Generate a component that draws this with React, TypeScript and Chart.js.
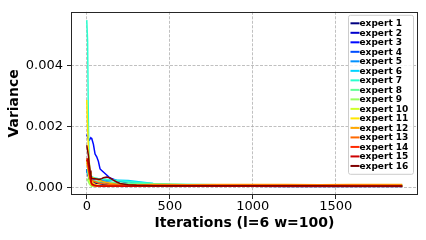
import React, { useEffect, useRef } from "react";
import { Chart, registerables } from "chart.js";

Chart.register(...registerables);

const iterations = [0, 5, 10, 15, 20, 25, 30, 40, 50, 60, 70, 80, 90, 100, 120, 140, 160, 180, 200, 250, 300, 400, 500, 600, 800, 1000, 1200, 1400, 1600, 1800, 1900];

const expert1 = [6.0e-4, 5.0e-4, 3.5e-4, 2.5e-4, 2.0e-4, 1.8e-4, 1.6e-4, 1.5e-4, 1.4e-4, 1.3e-4, 1.2e-4, 1.1e-4, 1.0e-4, 0.9e-4, 0.8e-4, 0.7e-4, 0.6e-4, 0.55e-4, 0.5e-4, 0.4e-4, 0.35e-4, 0.3e-4, 0.3e-4, 0.28e-4, 0.27e-4, 0.26e-4, 0.25e-4, 0.25e-4, 0.24e-4, 0.24e-4, 0.24e-4];
const expert2 = [5.0e-4, 4.5e-4, 3.8e-4, 3.2e-4, 2.8e-4, 2.5e-4, 2.3e-4, 2.0e-4, 1.9e-4, 1.8e-4, 1.8e-4, 1.7e-4, 1.6e-4, 1.5e-4, 1.4e-4, 1.3e-4, 1.1e-4, 1.0e-4, 0.9e-4, 0.7e-4, 0.55e-4, 0.45e-4, 0.4e-4, 0.38e-4, 0.35e-4, 0.34e-4, 0.33e-4, 0.32e-4, 0.32e-4, 0.31e-4, 0.31e-4];
const expert3 = [17.3e-4, 16.5e-4, 15.7e-4, 15.5e-4, 16.0e-4, 16.2e-4, 16.0e-4, 14.1e-4, 10.9e-4, 10.0e-4, 8.5e-4, 6.0e-4, 5.5e-4, 5.0e-4, 4.0e-4, 3.0e-4, 2.6e-4, 2.2e-4, 2.0e-4, 1.2e-4, 0.7e-4, 0.5e-4, 0.45e-4, 0.42e-4, 0.4e-4, 0.4e-4, 0.38e-4, 0.38e-4, 0.37e-4, 0.37e-4, 0.37e-4];
const expert4 = [5.5e-4, 4.8e-4, 4.0e-4, 3.5e-4, 3.2e-4, 3.0e-4, 2.9e-4, 2.7e-4, 2.6e-4, 2.5e-4, 2.4e-4, 2.3e-4, 2.2e-4, 2.0e-4, 1.8e-4, 1.6e-4, 1.4e-4, 1.2e-4, 1.0e-4, 0.8e-4, 0.6e-4, 0.5e-4, 0.45e-4, 0.42e-4, 0.4e-4, 0.4e-4, 0.38e-4, 0.37e-4, 0.37e-4, 0.36e-4, 0.36e-4];
const expert5 = [6.0e-4, 5.0e-4, 4.0e-4, 3.6e-4, 3.3e-4, 3.1e-4, 3.0e-4, 2.9e-4, 2.8e-4, 2.7e-4, 2.6e-4, 2.5e-4, 2.4e-4, 2.4e-4, 2.3e-4, 2.2e-4, 2.2e-4, 2.1e-4, 2.0e-4, 1.8e-4, 1.4e-4, 0.9e-4, 0.7e-4, 0.6e-4, 0.55e-4, 0.5e-4, 0.5e-4, 0.48e-4, 0.47e-4, 0.46e-4, 0.46e-4];
const expert6 = [5.0e-4, 4.6e-4, 4.2e-4, 4.0e-4, 3.8e-4, 3.5e-4, 3.3e-4, 3.0e-4, 2.9e-4, 2.8e-4, 2.7e-4, 2.6e-4, 2.6e-4, 2.5e-4, 2.5e-4, 2.4e-4, 2.4e-4, 2.3e-4, 2.3e-4, 2.2e-4, 1.9e-4, 1.2e-4, 0.9e-4, 0.8e-4, 0.7e-4, 0.65e-4, 0.6e-4, 0.6e-4, 0.58e-4, 0.57e-4, 0.57e-4];
const expert7 = [55.0e-4, 48.0e-4, 20.0e-4, 8.0e-4, 4.5e-4, 3.8e-4, 3.5e-4, 3.2e-4, 3.0e-4, 2.9e-4, 2.8e-4, 2.7e-4, 2.6e-4, 2.6e-4, 2.5e-4, 2.4e-4, 2.3e-4, 2.2e-4, 2.1e-4, 1.9e-4, 1.6e-4, 1.2e-4, 1.0e-4, 0.9e-4, 0.8e-4, 0.75e-4, 0.7e-4, 0.7e-4, 0.68e-4, 0.67e-4, 0.66e-4];
const expert8 = [9.5e-4, 8.0e-4, 5.0e-4, 3.5e-4, 2.8e-4, 2.5e-4, 2.3e-4, 2.1e-4, 2.0e-4, 1.9e-4, 1.8e-4, 1.8e-4, 1.7e-4, 1.7e-4, 1.6e-4, 1.5e-4, 1.5e-4, 1.4e-4, 1.4e-4, 1.3e-4, 1.2e-4, 1.1e-4, 1.0e-4, 0.9e-4, 0.8e-4, 0.75e-4, 0.7e-4, 0.68e-4, 0.66e-4, 0.65e-4, 0.65e-4];
const expert9 = [2.8e-4, 2.4e-4, 1.8e-4, 1.2e-4, 0.8e-4, 0.5e-4, 0.35e-4, 0.32e-4, 0.3e-4, 0.31e-4, 0.3e-4, 0.29e-4, 0.3e-4, 0.31e-4, 0.3e-4, 0.3e-4, 0.29e-4, 0.3e-4, 0.3e-4, 0.29e-4, 0.3e-4, 0.3e-4, 0.29e-4, 0.29e-4, 0.28e-4, 0.28e-4, 0.28e-4, 0.28e-4, 0.28e-4, 0.27e-4, 0.27e-4];
const expert10 = [9.0e-4, 7.0e-4, 4.0e-4, 2.5e-4, 1.5e-4, 1.0e-4, 0.8e-4, 0.6e-4, 0.5e-4, 0.45e-4, 0.42e-4, 0.4e-4, 0.4e-4, 0.38e-4, 0.37e-4, 0.36e-4, 0.35e-4, 0.35e-4, 0.34e-4, 0.34e-4, 0.33e-4, 0.33e-4, 0.32e-4, 0.32e-4, 0.32e-4, 0.31e-4, 0.31e-4, 0.31e-4, 0.3e-4, 0.3e-4, 0.3e-4];
const expert11 = [28.7e-4, 20.0e-4, 12.0e-4, 8.0e-4, 5.0e-4, 3.0e-4, 2.0e-4, 1.2e-4, 0.9e-4, 0.7e-4, 0.6e-4, 0.5e-4, 0.48e-4, 0.46e-4, 0.45e-4, 0.44e-4, 0.43e-4, 0.42e-4, 0.41e-4, 0.4e-4, 0.4e-4, 0.39e-4, 0.38e-4, 0.38e-4, 0.37e-4, 0.37e-4, 0.36e-4, 0.36e-4, 0.36e-4, 0.35e-4, 0.35e-4];
const expert12 = [8.0e-4, 7.0e-4, 5.5e-4, 4.5e-4, 3.8e-4, 3.4e-4, 3.2e-4, 3.0e-4, 2.8e-4, 2.6e-4, 2.4e-4, 2.2e-4, 2.0e-4, 1.8e-4, 1.5e-4, 1.3e-4, 1.1e-4, 1.0e-4, 0.9e-4, 0.8e-4, 0.75e-4, 0.85e-4, 0.9e-4, 0.8e-4, 0.9e-4, 0.85e-4, 0.9e-4, 0.8e-4, 0.9e-4, 0.85e-4, 0.85e-4];
const expert13 = [9.0e-4, 8.0e-4, 6.0e-4, 4.0e-4, 3.0e-4, 2.5e-4, 2.2e-4, 2.0e-4, 1.8e-4, 1.6e-4, 1.4e-4, 1.3e-4, 1.2e-4, 1.1e-4, 1.0e-4, 0.9e-4, 0.85e-4, 0.8e-4, 0.75e-4, 0.7e-4, 0.7e-4, 0.72e-4, 0.7e-4, 0.68e-4, 0.7e-4, 0.69e-4, 0.68e-4, 0.7e-4, 0.68e-4, 0.67e-4, 0.67e-4];
const expert14 = [9.5e-4, 8.5e-4, 7.0e-4, 5.0e-4, 3.0e-4, 1.5e-4, 0.8e-4, 0.5e-4, 0.4e-4, 0.38e-4, 0.36e-4, 0.35e-4, 0.34e-4, 0.33e-4, 0.32e-4, 0.32e-4, 0.31e-4, 0.31e-4, 0.3e-4, 0.3e-4, 0.3e-4, 0.3e-4, 0.3e-4, 0.3e-4, 0.3e-4, 0.29e-4, 0.29e-4, 0.29e-4, 0.29e-4, 0.28e-4, 0.28e-4];
const expert15 = [8.5e-4, 9.0e-4, 7.5e-4, 5.5e-4, 3.5e-4, 2.0e-4, 1.2e-4, 0.8e-4, 0.6e-4, 0.5e-4, 0.45e-4, 0.42e-4, 0.4e-4, 0.4e-4, 0.38e-4, 0.37e-4, 0.36e-4, 0.35e-4, 0.35e-4, 0.34e-4, 0.34e-4, 0.33e-4, 0.33e-4, 0.33e-4, 0.32e-4, 0.32e-4, 0.32e-4, 0.31e-4, 0.31e-4, 0.31e-4, 0.31e-4];
const expert16 = [13.8e-4, 12.0e-4, 10.3e-4, 7.5e-4, 5.5e-4, 4.0e-4, 2.8e-4, 2.8e-4, 2.8e-4, 2.7e-4, 2.6e-4, 2.6e-4, 2.8e-4, 3.1e-4, 3.3e-4, 3.0e-4, 2.3e-4, 1.7e-4, 1.2e-4, 0.8e-4, 0.6e-4, 0.5e-4, 0.45e-4, 0.45e-4, 0.44e-4, 0.44e-4, 0.43e-4, 0.43e-4, 0.42e-4, 0.42e-4, 0.42e-4];

const seriesLabels = ["expert 1", "expert 2", "expert 3", "expert 4", "expert 5", "expert 6", "expert 7", "expert 8", "expert 9", "expert 10", "expert 11", "expert 12", "expert 13", "expert 14", "expert 15", "expert 16"];
const seriesColors = [
  "rgb(0,0,128)", "rgb(0,0,205)", "rgb(0,8,255)", "rgb(0,77,255)",
  "rgb(0,145,255)", "rgb(0,212,255)", "rgb(41,255,206)", "rgb(96,255,151)",
  "rgb(151,255,96)", "rgb(206,255,41)", "rgb(255,230,0)", "rgb(255,167,0)",
  "rgb(255,104,0)", "rgb(255,41,0)", "rgb(205,0,0)", "rgb(128,0,0)",
];
const xTickValues = [0, 500, 1000, 1500];
const yTickValues = [0, 0.002, 0.004];

const FONT = "'DejaVu Sans', sans-serif";

export default function App() {
  const ref = useRef<HTMLCanvasElement>(null);

  useEffect(() => {
    const series = [expert1, expert2, expert3, expert4, expert5, expert6, expert7, expert8, expert9, expert10, expert11, expert12, expert13, expert14, expert15, expert16];

    const framePlugin = {
      id: "frame",
      afterDatasetsDraw(chart: any) {
        const { ctx, chartArea: a } = chart;
        ctx.save();
        ctx.strokeStyle = "#262626";
        ctx.lineWidth = 1;
        ctx.strokeRect(Math.round(a.left) + 0.5, Math.round(a.top) + 0.5, Math.round(a.right - a.left) - 1, Math.round(a.bottom - a.top) - 1);
        ctx.restore();
      },
    };

    const legendPlugin = {
      id: "boxLegend",
      afterDraw(chart: any) {
        const { ctx, chartArea: a } = chart;
        const ds = chart.data.datasets;
        const lx = a.right - 69.5;
        const ly = a.top + 3.5;
        const lw = 65;
        const lh = 159;
        ctx.save();
        ctx.beginPath();
        const r = 2;
        ctx.moveTo(lx + r, ly);
        ctx.lineTo(lx + lw - r, ly);
        ctx.quadraticCurveTo(lx + lw, ly, lx + lw, ly + r);
        ctx.lineTo(lx + lw, ly + lh - r);
        ctx.quadraticCurveTo(lx + lw, ly + lh, lx + lw - r, ly + lh);
        ctx.lineTo(lx + r, ly + lh);
        ctx.quadraticCurveTo(lx, ly + lh, lx, ly + lh - r);
        ctx.lineTo(lx, ly + r);
        ctx.quadraticCurveTo(lx, ly, lx + r, ly);
        ctx.closePath();
        ctx.fillStyle = "rgba(255,255,255,0.8)";
        ctx.fill();
        ctx.strokeStyle = "#cccccc";
        ctx.lineWidth = 1;
        ctx.stroke();
        ctx.font = `bold 9px ${FONT}`;
        ctx.textBaseline = "middle";
        ctx.textAlign = "left";
        ds.forEach((d: any, i: number) => {
          const y = ly + 8 + i * 9.51;
          ctx.strokeStyle = d.borderColor;
          ctx.lineWidth = 2;
          ctx.beginPath();
          ctx.moveTo(lx + 2, y);
          ctx.lineTo(lx + 11, y);
          ctx.stroke();
          ctx.fillStyle = "#000";
          ctx.fillText(d.label, lx + 11, y + 0.5);
        });
        ctx.restore();
      },
    };

    const chart = new Chart(ref.current as HTMLCanvasElement, {
      type: "line",
      data: {
        datasets: series.map((vals, i) => ({
          label: seriesLabels[i],
          data: iterations.map((x, j) => ({ x, y: vals[j] })),
          borderColor: seriesColors[i],
          backgroundColor: seriesColors[i],
          borderWidth: 1.5,
          pointRadius: 0,
          tension: 0,
          fill: false,
          order: 16 - i,
        })),
      },
      options: {
        animation: false,
        responsive: true,
        maintainAspectRatio: false,
        layout: { padding: { top: 8, right: 8, left: 0, bottom: 0 } },
        plugins: { legend: { display: false }, tooltip: { enabled: false } },
        scales: {
          x: {
            type: "linear",
            min: -95,
            max: 1995,
            afterBuildTicks: (s: any) => {
              s.ticks = xTickValues.map((v) => ({ value: v }));
            },
            afterFit: (s: any) => {
              s.height = 45;
            },
            grid: { color: "#b0b0b0", lineWidth: 0.8, tickLength: 4, tickColor: "#262626", tickWidth: 1 },
            border: { display: false, dash: [3, 1.5] },
            ticks: { color: "#000", font: { family: FONT, size: 13 }, padding: 0, maxRotation: 0, autoSkip: false, callback: (v: any) => String(v) },
            title: { display: true, text: "Iterations (l=6 w=100)", color: "#000", font: { family: FONT, size: 14, weight: "bold" }, padding: { top: 0, bottom: 8.6 } },
          },
          y: {
            type: "linear",
            min: -0.000258,
            max: 0.005774,
            afterBuildTicks: (s: any) => {
              s.ticks = yTickValues.map((v) => ({ value: v }));
            },
            afterFit: (s: any) => {
              s.width = 71;
            },
            grid: { color: "#b0b0b0", lineWidth: 0.8, tickLength: 4, tickColor: "#262626", tickWidth: 1 },
            border: { display: false, dash: [3, 1.5] },
            ticks: { color: "#000", font: { family: FONT, size: 13 }, padding: 4, autoSkip: false, callback: (v: any) => Number(v).toFixed(3) },
            title: { display: true, text: "Variance", color: "#000", font: { family: FONT, size: 14, weight: "bold" }, padding: { top: 5.6, bottom: 0 } },
          },
        },
      },
      plugins: [framePlugin, legendPlugin],
    } as any);

    return () => chart.destroy();
  }, []);

  return (
    <div style={{ position: "fixed", left: 0, top: 0, width: 426, height: 240 }}>
      <canvas ref={ref} />
    </div>
  );
}
